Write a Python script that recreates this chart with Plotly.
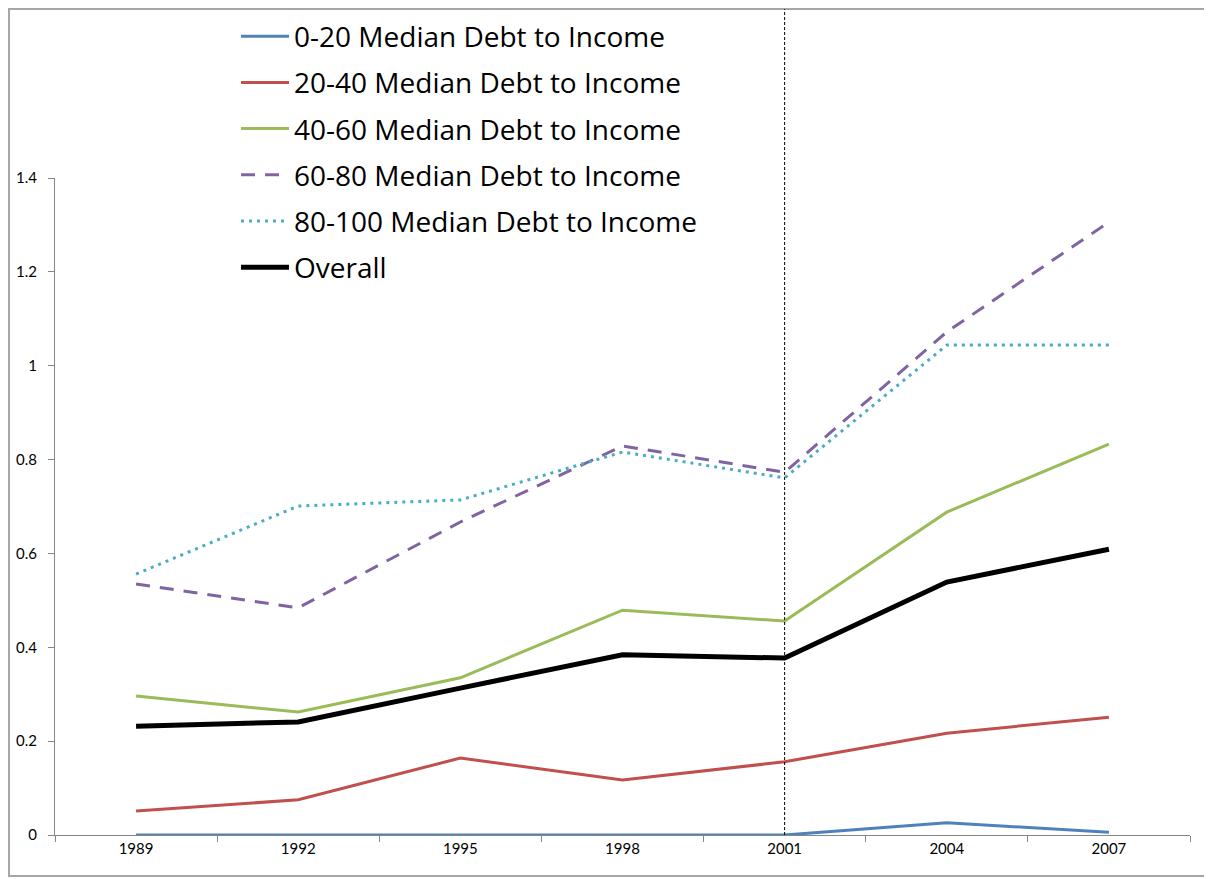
import plotly.graph_objects as go

years = ['1989', '1992', '1995', '1998', '2001', '2004', '2007']
marker_year = '2001'

q0_20 = [0.0, 0.0, 0.0, 0.0, 0.0, 0.026, 0.006]
q20_40 = [0.051, 0.075, 0.164, 0.117, 0.156, 0.217, 0.251]
q40_60 = [0.296, 0.262, 0.335, 0.479, 0.456, 0.688, 0.833]
q60_80 = [0.535, 0.484, 0.667, 0.829, 0.773, 1.072, 1.306]
q80_100 = [0.556, 0.701, 0.714, 0.816, 0.761, 1.044, 1.044]
overall = [0.232, 0.241, 0.313, 0.384, 0.377, 0.539, 0.609]

series = [
    ('0-20 Median Debt to Income', q0_20, '#4F81BD', 'solid', 3),
    ('20-40 Median Debt to Income', q20_40, '#C0504D', 'solid', 3),
    ('40-60 Median Debt to Income', q40_60, '#9BBB59', 'solid', 3),
    ('60-80 Median Debt to Income', q60_80, '#8064A2', '14px,10px', 3),
    ('80-100 Median Debt to Income', q80_100, '#4BACC6', '3px,5px', 3),
    ('Overall', overall, '#000000', 'solid', 5),
]

fig = go.Figure()
for i, (name, vals, color, dash, width) in enumerate(series):
    fig.add_trace(go.Scatter(
        x=years, y=vals, name=name, mode='lines', legendgroup=str(i),
        line=dict(color=color, dash=dash, width=width),
    ))

# dashed marker line at 2001 (category index on the x axis)
xi = years.index(marker_year)
fig.add_shape(type='line', xref='x', yref='paper', x0=xi, x1=xi,
              y0=0, y1=1.257, line=dict(color='#000000', width=1, dash='3px,2px'))

# outer chart border
fig.add_shape(type='rect', xref='paper', yref='paper',
              x0=-0.0405, x1=1.0141, y0=-0.0624, y1=1.2572,
              line=dict(color='#A6A6A6', width=2), layer='below')

axis_font = dict(family='Lato', size=15, color='#000000')

fig.update_layout(
    width=1204, height=871,
    margin=dict(l=47, r=22, t=170, b=44, autoexpand=False),
    paper_bgcolor='white', plot_bgcolor='white',
    showlegend=True,
    legend=dict(
        xref='paper', yref='container',
        x=0.1595, y=0.996, xanchor='left', yanchor='top',
        font=dict(family='Open Sans', size=28, color='#000000'),
        tracegroupgap=6.8, itemwidth=48, bgcolor='rgba(0,0,0,0)',
    ),
    xaxis=dict(
        type='category', tickson='boundaries', ticks='outside', ticklen=6,
        tickcolor='#868686', showline=True, linecolor='#868686', linewidth=1,
        showgrid=False, tickfont=axis_font, range=[-0.5, 6.5], automargin=False,
    ),
    yaxis=dict(
        range=[0, 1.4], dtick=0.2, ticks='outside', ticklen=6,
        tickcolor='#868686', showline=True, linecolor='#868686', linewidth=1,
        showgrid=False, zeroline=False, tickfont=axis_font, automargin=False,
        tickformat='~g', ticklabelstandoff=8,
    ),
)

fig.write_html('out.html')
